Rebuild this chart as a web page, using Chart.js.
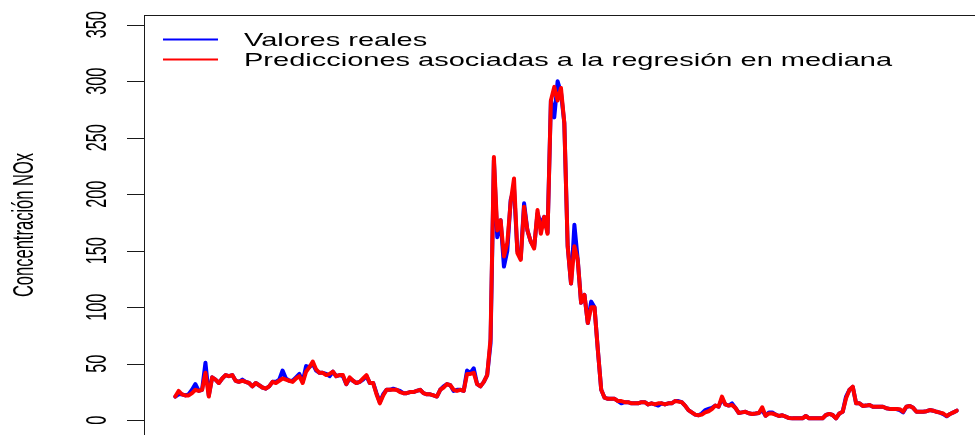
<!DOCTYPE html>
<html lang="es">
<head>
<meta charset="utf-8">
<title>Concentración NOx</title>
<script src="https://cdn.jsdelivr.net/npm/chart.js@4/dist/chart.umd.min.js"></script>
<style>
  html, body { margin: 0; padding: 0; background: #ffffff; overflow: hidden; }
  #wrap { position: relative; width: 975px; height: 435px; overflow: hidden; }
  #plot { position: absolute; left: 0; top: 0; }
</style>
</head>
<body>
<div id="wrap"><canvas id="plot" width="1000" height="450"></canvas></div>
<script>
// Observed NOx concentration, one value per observation
const valoresReales = [
  21, 23, 23, 22, 23, 27, 32, 26, 27, 51,
  22, 38, 36, 33, 37, 40, 39, 40, 35, 34,
  36, 34, 33, 30, 33, 31, 29, 28, 30, 34,
  34, 36, 44, 37, 35, 35, 38, 41, 34, 48,
  47, 50, 44, 42, 42, 41, 39, 43, 39, 40,
  39, 32, 37, 35, 33, 34, 36, 39, 33, 33,
  24, 16, 23, 27, 27, 28, 27, 26, 24, 24,
  25, 25, 26, 27, 24, 23, 23, 22, 21, 27,
  30, 32, 31, 26, 27, 27, 26, 44, 42, 46,
  32, 30, 34, 40, 68, 230, 162, 177, 136, 150,
  195, 205, 150, 143, 192, 168, 158, 153, 183, 174,
  180, 166, 283, 268, 300, 290, 263, 154, 121, 173,
  142, 104, 111, 86, 105, 100, 62, 27, 20, 19,
  19, 19, 17, 15, 16, 16, 15, 15, 15, 16,
  16, 14, 15, 14, 13, 15, 14, 15, 15, 17,
  17, 16, 13, 9, 7, 5, 4.5, 6, 9, 10,
  11, 13, 12, 19, 14, 13, 15, 11, 6.5, 7,
  7.5, 6.2, 5.6, 6, 6.5, 9, 4, 7, 7, 5,
  3.8, 4.4, 3.2, 2, 1.7, 1.7, 1.7, 1.7, 3.8, 1.7,
  1.7, 1.7, 1.7, 1.7, 4.7, 5.6, 4.7, 1.7, 6, 7.6,
  21, 27, 29.5, 15, 15, 12.7, 13, 13.5, 12, 12,
  12, 12, 10.6, 10.1, 10.1, 10, 9, 7, 12, 12.7,
  11, 7.6, 7.6, 7.6, 8, 9.1, 8.5, 7.5, 6.8, 5.5,
  3.5, 5.6, 7, 8.5
];

// Fitted values from the median (quantile 0.5) regression
const prediccionesMediana = [
  21, 26, 23, 22, 22, 24, 27, 26, 27, 42,
  21, 38, 36, 33, 37, 40, 39, 40, 35, 34,
  35, 34, 33, 30, 33, 31, 29, 28, 30, 34,
  33, 35, 37, 36, 35, 34, 37, 39, 33, 43,
  47, 52, 45, 42, 42, 40, 41, 43, 39, 40,
  40, 32, 38, 35, 33, 34, 37, 40, 33, 33,
  23, 15, 22, 27, 27, 27, 27, 25, 24, 24,
  25, 25, 26, 27, 24, 23, 23, 22, 21, 27,
  29, 32, 31, 27, 26, 27, 26, 41, 41, 42,
  32, 30, 34, 40, 72, 233, 168, 177, 145, 157,
  193, 214, 148, 142, 189, 168, 158, 152, 186, 165,
  180, 165, 283, 295, 283, 294, 263, 154, 121, 154,
  142, 104, 111, 86, 100, 100, 62, 27, 20, 19,
  19, 19, 17, 17, 16, 16, 15, 15, 15, 16,
  16, 14, 15, 14, 15, 15, 14, 15, 15, 17,
  16.5, 16, 13, 9, 7, 5, 4.5, 5, 7, 8,
  10, 13, 12, 21, 14, 13, 13.5, 11, 6.5, 7,
  7.5, 6.2, 5.6, 6, 6.5, 11.5, 4, 6, 6, 5,
  3.8, 4.4, 3.2, 2, 1.7, 1.7, 1.7, 1.7, 3.8, 1.7,
  1.7, 1.7, 1.7, 1.7, 4.7, 5.6, 4.7, 1.7, 6, 7.6,
  19.5, 26.8, 29.7, 15, 15, 12.7, 13, 13.5, 12, 12,
  12, 12, 10.6, 10.1, 10.1, 10, 9.8, 7.6, 12, 12.7,
  11, 7.6, 7.6, 7.6, 8, 9.1, 8.5, 7.5, 6.8, 6,
  3.8, 5.6, 7, 8.5
];

const yTicks = [0, 50, 100, 150, 200, 250, 300, 350];
const seriesNames = ['Valores reales', 'Predicciones asociadas a la regresión en mediana'];
const seriesColors = ['#0000ff', '#ff0000'];
const yTitle = 'Concentración NOx';

const n = valoresReales.length;
const toPoints = arr => arr.map((v, i) => ({ x: i + 1, y: v }));

// R-style axis limits: data range widened by 4% on each side
const xPad = 0.04 * (n - 1);
const FONT = '"Liberation Sans", Arial, Helvetica, sans-serif';

// Draws text squeezed along one direction, like the rest of the figure's lettering
function rotatedText(ctx, text, baseX, centerY, along) {
  ctx.save();
  ctx.translate(baseX, centerY);
  ctx.scale(1, along);
  ctx.rotate(-Math.PI / 2);
  ctx.textAlign = 'center';
  ctx.textBaseline = 'alphabetic';
  ctx.fillText(text, 0, 0);
  ctx.restore();
}

const rFrame = {
  id: 'rFrame',
  afterDraw(chart) {
    const { ctx, chartArea: a } = chart;
    const y = chart.scales.y;
    ctx.save();

    // plot box
    ctx.strokeStyle = '#1a1a1a';
    ctx.lineWidth = 1;
    ctx.strokeRect(a.left + 0.5, a.top + 0.5, a.right - a.left, a.bottom - a.top);

    // left axis: tick marks and vertical labels
    ctx.fillStyle = '#000000';
    ctx.font = '29px ' + FONT;
    yTicks.forEach(v => {
      const py = Math.round(y.getPixelForValue(v)) + 0.5;
      ctx.beginPath();
      ctx.moveTo(127, py);
      ctx.lineTo(a.left + 0.5, py);
      ctx.stroke();
      rotatedText(ctx, String(v), 106, y.getPixelForValue(v), 0.56);
    });

    // axis title
    rotatedText(ctx, yTitle, 33, 225, 0.57);

    // legend (no frame)
    const rows = [39.5, 59.5];
    seriesNames.forEach((name, i) => {
      ctx.strokeStyle = seriesColors[i];
      ctx.lineWidth = 2;
      ctx.beginPath();
      ctx.moveTo(163, rows[i]);
      ctx.lineTo(218, rows[i]);
      ctx.stroke();
      ctx.save();
      ctx.translate(244, rows[i] + 6.5);
      ctx.scale(1, 0.625);
      ctx.fillStyle = '#000000';
      ctx.font = '29px ' + FONT;
      ctx.textAlign = 'left';
      ctx.textBaseline = 'alphabetic';
      ctx.fillText(name, 0, 0);
      ctx.restore();
    });

    ctx.restore();
  }
};

new Chart(document.getElementById('plot'), {
  type: 'line',
  data: {
    datasets: [
      {
        label: seriesNames[0],
        data: toPoints(valoresReales),
        borderColor: seriesColors[0],
        borderWidth: 4,
        order: 1
      },
      {
        label: seriesNames[1],
        data: toPoints(prediccionesMediana),
        borderColor: seriesColors[1],
        borderWidth: 4,
        order: 0
      }
    ]
  },
  options: {
    responsive: false,
    devicePixelRatio: 1,
    animation: false,
    events: [],
    layout: { padding: { left: 144, top: 15, right: 12, bottom: 14 } },
    elements: {
      point: { radius: 0 },
      line: { tension: 0, borderJoinStyle: 'round', borderCapStyle: 'round', fill: false }
    },
    scales: {
      x: { type: 'linear', display: false, min: 1 - xPad, max: n + xPad },
      y: { type: 'linear', display: false, min: -13.9, max: 358.6 }
    },
    plugins: {
      legend: { display: false },
      tooltip: { enabled: false }
    }
  },
  plugins: [rFrame]
});
</script>
</body>
</html>
